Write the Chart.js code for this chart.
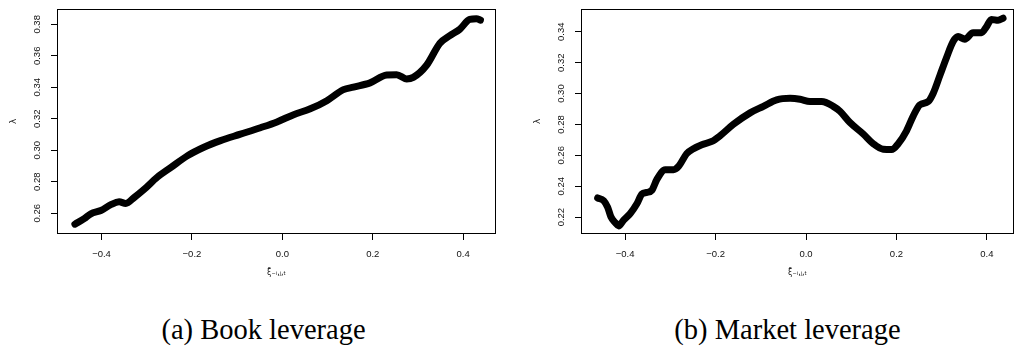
<!DOCTYPE html>
<html><head><meta charset="utf-8">
<script src="https://cdn.jsdelivr.net/npm/chart.js@4.4.0/dist/chart.umd.min.js"></script>
<style>
body{margin:0;background:#fff;width:1015px;height:347px;overflow:hidden;position:relative}
.panel{position:absolute;top:0}
.cap{position:absolute;font-family:"Liberation Serif","Times New Roman",serif;font-size:28.5px;line-height:28.5px;white-space:nowrap;color:#000;top:316px;transform:translateX(-50%)}
</style></head><body>
<div class="panel" style="left:0"><canvas id="c1" width="507" height="290"></canvas></div>
<div class="panel" style="left:524px"><canvas id="c2" width="491" height="290"></canvas></div>
<div class="cap" id="cap1" style="left:263.5px"></div>
<div class="cap" id="cap2" style="left:787.5px"></div>
<script>
// ---- data ----
const bookX = [-0.4589,-0.4383,-0.4236,-0.4015,-0.3794,-0.3611,-0.3463,-0.3280,-0.3059,-0.2765,-0.2471,-0.2103,-0.1735,-0.1368,-0.0927,-0.0485,-0.0118,0.0250,0.0618,0.0985,0.1353,0.1574,0.1941,0.2309,0.2530,0.2750,0.2897,0.3191,0.3486,0.3706,0.3927,0.4147,0.4294,0.4383];
const bookY = [0.2530,0.2565,0.2596,0.2617,0.2654,0.2672,0.2662,0.2699,0.2751,0.2829,0.2889,0.2964,0.3019,0.3061,0.3102,0.3143,0.3180,0.3226,0.3263,0.3315,0.3385,0.3401,0.3428,0.3478,0.3480,0.3453,0.3463,0.3540,0.3680,0.3728,0.3769,0.3831,0.3835,0.3827];
const marketX = [-0.4607,-0.4475,-0.4387,-0.4314,-0.4218,-0.4144,-0.4033,-0.3886,-0.3739,-0.3628,-0.3518,-0.3408,-0.3297,-0.3113,-0.2929,-0.2819,-0.2635,-0.2488,-0.2304,-0.2083,-0.1899,-0.1605,-0.1236,-0.0942,-0.0648,-0.0353,-0.0132,0.0088,0.0346,0.0603,0.0751,0.0972,0.1266,0.1487,0.1707,0.1892,0.2039,0.2223,0.2370,0.2517,0.2701,0.2811,0.2959,0.3106,0.3253,0.3363,0.3511,0.3695,0.3879,0.3989,0.4100,0.4247,0.4357];
const marketY = [0.2324,0.2307,0.2265,0.2202,0.2164,0.2143,0.2181,0.2223,0.2286,0.2349,0.2360,0.2374,0.2444,0.2507,0.2507,0.2528,0.2612,0.2643,0.2669,0.2690,0.2727,0.2801,0.2875,0.2917,0.2959,0.2969,0.2963,0.2948,0.2948,0.2917,0.2885,0.2812,0.2738,0.2675,0.2639,0.2637,0.2675,0.2759,0.2854,0.2927,0.2948,0.3001,0.3116,0.3232,0.3337,0.3369,0.3352,0.3394,0.3394,0.3432,0.3480,0.3474,0.3488];
const xTickValues = [-0.4,-0.2,0.0,0.2,0.4];
const bookYTicks = [0.26,0.28,0.30,0.32,0.34,0.36,0.38];
const marketYTicks = [0.22,0.24,0.26,0.28,0.30,0.32,0.34];
const xTitle = 'ξ\u0304\u208B\u1D62,\u2C7C,\u209C';
const yTitle = 'λ';
const captions = ['(a) Book leverage','(b) Market leverage'];

document.getElementById('cap1').textContent = captions[0];
document.getElementById('cap2').textContent = captions[1];

const boxPlugin = {
  id: 'box',
  afterDraw(chart) {
    const {ctx, chartArea: a} = chart;
    ctx.save();
    ctx.strokeStyle = '#000';
    ctx.lineWidth = 1;
    ctx.strokeRect(Math.round(a.left) - 0.5, Math.round(a.top) - 0.5, Math.round(a.right - a.left) + 1, Math.round(a.bottom - a.top) + 1);
    ctx.restore();
  }
};

const fmtX = v => (v < -1e-9 ? '\u2212' : '') + Math.abs(v).toFixed(1);
const fmtY = v => v.toFixed(2);

function makeChart(id, xs, ys, yTicks, xr, yr, padRight) {
  const pts = xs.map((x, i) => ({x, y: ys[i]}));
  return new Chart(document.getElementById(id), {
    type: 'scatter',
    data: { datasets: [{ data: pts, showLine: true, borderColor: '#000', backgroundColor: '#000',
      borderWidth: 7, pointRadius: 0, borderCapStyle: 'round', borderJoinStyle: 'round',
      cubicInterpolationMode: 'monotone' }] },
    options: {
      responsive: false, animation: false, events: [],
      layout: { padding: { top: 4, right: padRight, left: 0, bottom: 0 } },
      plugins: { legend: { display: false }, tooltip: { enabled: false } },
      scales: {
        x: {
          type: 'linear', min: xr[0], max: xr[1],
          afterBuildTicks: s => { s.ticks = xTickValues.map(v => ({value: v})); },
          afterFit: s => { s.height = 57; },
          grid: { display: true, drawOnChartArea: false, drawTicks: true, tickLength: 7, color: '#000', lineWidth: 1 },
          border: { display: false },
          ticks: { autoSkip: false, maxRotation: 0, minRotation: 0, padding: 9, color: '#111',
            font: { family: 'Liberation Sans, Arial, sans-serif', size: 9.5 }, callback: fmtX },
          title: { display: true, text: xTitle, color: '#111', padding: { top: 0, bottom: 12 },
            font: { family: 'DejaVu Sans, Liberation Sans, sans-serif', size: 8 } }
        },
        y: {
          type: 'linear', min: yr[0], max: yr[1],
          afterBuildTicks: s => { s.ticks = yTicks.map(v => ({value: v})); },
          afterFit: s => { s.width = 58; },
          grid: { display: true, drawOnChartArea: false, drawTicks: true, tickLength: 7, color: '#000', lineWidth: 1 },
          border: { display: false },
          ticks: { autoSkip: false, minRotation: 90, maxRotation: 90, crossAlign: 'center', padding: 4, color: '#111',
            font: { family: 'Liberation Sans, Arial, sans-serif', size: 9.5 }, callback: fmtY },
          title: { display: true, text: yTitle, color: '#111', padding: { top: 8, bottom: 0 },
            font: { family: 'DejaVu Sans, Liberation Sans, sans-serif', size: 9 } }
        }
      }
    },
    plugins: [boxPlugin]
  });
}

makeChart('c1', bookX, bookY, bookYTicks, [-0.4963, 0.4705], [0.2474, 0.3893], 12);
makeChart('c2', marketX, marketY, marketYTicks, [-0.4953, 0.4577], [0.2097, 0.3543], 2);
</script>
</body></html>
